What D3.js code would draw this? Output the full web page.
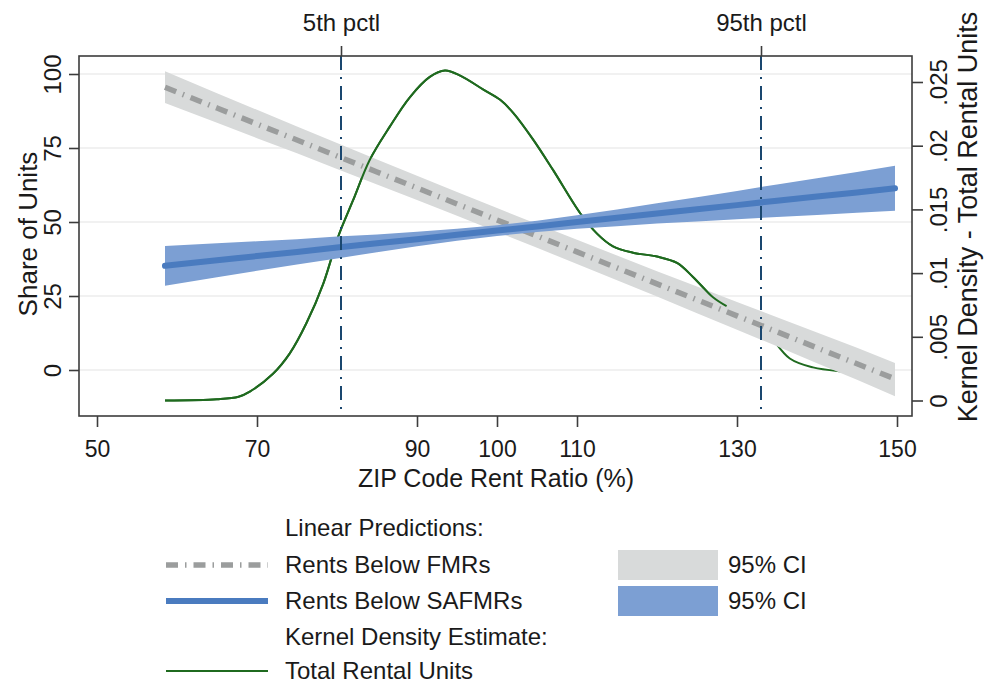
<!DOCTYPE html>
<html><head><meta charset="utf-8">
<script src="https://cdn.jsdelivr.net/npm/d3@7"></script>
<style>body{margin:0;background:#fff}svg{display:block}</style>
</head><body><svg id="c" width="985" height="685"></svg>
<script>
// ---------- data ----------
const xTicks = [50, 70, 90, 100, 110, 130, 150];
const yLeftTicks = [0, 25, 50, 75, 100];
const yRightTicks = [0, 0.005, 0.01, 0.015, 0.02, 0.025];
const yRightLabels = ["0", ".005", ".01", ".015", ".02", ".025"];
const pctlValues = [80.5, 133];
const pctlLabels = ["5th pctl", "95th pctl"];

const predX    = [58.5, 65, 70, 75, 80, 85, 90, 95, 100, 105, 110, 115, 120, 125, 130, 135, 140, 145, 149.75];
const fmrFit   = [95.5, 88.5, 83.1, 77.7, 72.3, 66.9, 61.5, 56.1, 50.7, 45.3, 39.9, 34.5, 29.1, 23.7, 18.3, 12.9, 7.5, 2.1, -3.0];
const fmrLo    = [90.2, 83.5, 78.3, 73.2, 67.9, 62.7, 57.4, 52.1, 46.7, 41.3, 35.8, 30.3, 24.8, 19.2, 13.6, 8.0, 2.3, -3.3, -8.9];
const fmrHi    = [100.9, 93.5, 87.9, 82.3, 76.7, 71.1, 65.6, 60.1, 54.7, 49.3, 44.0, 38.7, 33.4, 28.2, 23.0, 17.8, 12.7, 7.5, 2.4];
const safmrFit = [35.2, 37.1, 38.5, 39.9, 41.4, 42.8, 44.2, 45.7, 47.1, 48.5, 50.0, 51.4, 52.9, 54.3, 55.7, 57.2, 58.6, 60.0, 61.4];
const safmrLo  = [28.5, 31.3, 33.5, 35.6, 37.7, 39.8, 41.8, 43.7, 45.3, 46.6, 47.7, 48.6, 49.5, 50.2, 50.9, 51.7, 52.4, 53.1, 53.8];
const safmrHi  = [41.9, 42.8, 43.5, 44.2, 45.1, 45.8, 46.7, 47.7, 48.9, 50.4, 52.3, 54.2, 56.3, 58.4, 60.5, 62.7, 64.8, 66.9, 69.0];

const densX = [58.5, 65.0, 67.7, 69.1, 72.0, 74.1, 76.2, 78.3, 80.0, 80.6, 82.0, 84.1, 86.6, 89.1, 91.6, 93.5, 95.4, 98.3, 100.4, 102.0, 104.5, 107.0, 110.4, 112.5, 114.5, 117.0, 120.0, 122.5, 124.5, 127.0, 128.7, 131.0, 133.5, 136.6, 139.5, 142.9, 146.0, 149.5];
const densY = [0.0000, 0.0001, 0.0003, 0.0007, 0.0021, 0.0037, 0.0061, 0.0092, 0.0126, 0.0136, 0.0157, 0.0189, 0.0215, 0.0238, 0.0254, 0.0259, 0.0255, 0.0244, 0.0236, 0.0226, 0.0205, 0.0181, 0.0147, 0.0131, 0.0121, 0.0116, 0.0113, 0.0108, 0.0097, 0.0081, 0.0074, 0.0066, 0.0055, 0.0033, 0.0026, 0.0023, 0.0022, 0.0021];

// ---------- layout ----------
const FONT = "'Liberation Sans', Arial, Helvetica, sans-serif";
const frame = {left: 79, right: 912, top: 56, bottom: 416};
const C = {
  grayBand: "#d8dada", grayLine: "#9b9d9d",
  blueBand: "#7c9fd3", blueLine: "#4a7bbf",
  green: "#1f6a1f", pctl: "#1a476f", grid: "#ececec", axis: "#3c3c3c", text: "#1a1a1a"
};

const svg = d3.select("#c").style("font-family", FONT);
const x  = d3.scaleLinear().domain([50, 150]).range([97, 897]);
const yL = d3.scaleLinear().domain([0, 100]).range([370, 74]);
const yR = d3.scaleLinear().domain([0, 0.025]).range([400.5, 82]);

// gridlines
svg.append("g").selectAll("line").data(yLeftTicks).join("line")
  .attr("x1", frame.left).attr("x2", frame.right)
  .attr("y1", d => yL(d)).attr("y2", d => yL(d))
  .attr("stroke", C.grid).attr("stroke-width", 1.6);

const idx = d3.range(predX.length);
const area = (lo, hi) => d3.area().x(i => x(predX[i])).y0(i => yL(lo[i])).y1(i => yL(hi[i]));
const line = (v) => d3.line().x(i => x(predX[i])).y(i => yL(v[i]));
const densLine = d3.line().curve(d3.curveCatmullRom).x(i => x(densX[i])).y(i => yR(densY[i]));
const didx = d3.range(densX.length);

// density (full, beneath the FMR band)
svg.append("path").attr("d", densLine(didx))
  .attr("fill", "none").attr("stroke", C.green).attr("stroke-width", 2);

// FMR band
svg.append("path").attr("d", area(fmrLo, fmrHi)(idx)).attr("fill", C.grayBand);

// density (left part, drawn over the FMR band)
svg.append("path").attr("d", densLine(didx.filter(i => densX[i] <= 129)))
  .attr("fill", "none").attr("stroke", C.green).attr("stroke-width", 2);

// FMR line
svg.append("path").attr("d", line(fmrFit)(idx)).attr("fill", "none")
  .attr("stroke", C.grayLine).attr("stroke-width", 5.5).attr("stroke-dasharray", "12,7,1.5,7");

// SAFMR band + line
svg.append("path").attr("d", area(safmrLo, safmrHi)(idx)).attr("fill", C.blueBand);
svg.append("path").attr("d", line(safmrFit)(idx)).attr("fill", "none")
  .attr("stroke", C.blueLine).attr("stroke-width", 6).attr("stroke-linecap", "round");

// percentile lines
svg.append("g").selectAll("line").data(pctlValues).join("line")
  .attr("x1", d => x(d)).attr("x2", d => x(d))
  .attr("y1", frame.top).attr("y2", frame.bottom)
  .attr("stroke", C.pctl).attr("stroke-width", 2).attr("stroke-dasharray", "14,7,2,7");

// frame
svg.append("rect").attr("x", frame.left).attr("y", frame.top)
  .attr("width", frame.right - frame.left).attr("height", frame.bottom - frame.top)
  .attr("fill", "none").attr("stroke", C.axis).attr("stroke-width", 1.6);

function styleAxis(g) {
  g.select(".domain").remove();
  g.selectAll(".tick line").attr("stroke", C.axis).attr("stroke-width", 1.6);
  g.selectAll(".tick text").attr("fill", C.text).style("font-family", FONT);
}

// bottom axis
svg.append("g").attr("transform", `translate(0,${frame.bottom})`)
  .call(d3.axisBottom(x).tickValues(xTicks).tickSize(11).tickPadding(14).tickFormat(d3.format("d")))
  .call(styleAxis)
  .selectAll("text").style("font-size", "23px");

// top axis (percentiles)
svg.append("g").attr("transform", `translate(0,${frame.top})`)
  .call(d3.axisTop(x).tickValues(pctlValues).tickSize(10).tickPadding(15).tickFormat((d, i) => pctlLabels[i]))
  .call(styleAxis)
  .selectAll("text").style("font-size", "24px");

// left axis
const gL = svg.append("g").attr("transform", `translate(${frame.left},0)`)
  .call(d3.axisLeft(yL).tickValues(yLeftTicks).tickSize(10).tickFormat(d3.format("d")))
  .call(styleAxis);
gL.selectAll(".tick text").attr("x", null).attr("dy", null)
  .attr("transform", "translate(-18,0) rotate(-90)").attr("text-anchor", "middle").style("font-size", "24px");

// right axis
const gR = svg.append("g").attr("transform", `translate(${frame.right},0)`)
  .call(d3.axisRight(yR).tickValues(yRightTicks).tickSize(11).tickFormat((d, i) => yRightLabels[i]))
  .call(styleAxis);
gR.selectAll(".tick text").attr("x", null).attr("dy", null)
  .attr("transform", "translate(35,0) rotate(-90)").attr("text-anchor", "middle").style("font-size", "24px");

// axis titles
svg.append("text").attr("x", 496).attr("y", 487).attr("text-anchor", "middle")
  .style("font-size", "25px").attr("fill", C.text).text("ZIP Code Rent Ratio (%)");
svg.append("text").attr("transform", "translate(37,234) rotate(-90)").attr("text-anchor", "middle")
  .style("font-size", "26px").attr("fill", C.text).text("Share of Units");
svg.append("text").attr("transform", "translate(977,217) rotate(-90)").attr("text-anchor", "middle")
  .style("font-size", "27px").attr("fill", C.text).text("Kernel Density - Total Rental Units");

// legend
const lg = svg.append("g").style("font-size", "24px").attr("fill", C.text);
const rowY = [528, 565, 601, 637, 671];
const tx = 285;
lg.append("text").attr("x", tx).attr("y", rowY[0]).attr("dy", "0.35em").text("Linear Predictions:");
lg.append("line").attr("x1", 166).attr("x2", 268).attr("y1", rowY[1]).attr("y2", rowY[1])
  .attr("stroke", C.grayLine).attr("stroke-width", 5.5).attr("stroke-dasharray", "12,7,1.5,7");
lg.append("text").attr("x", tx).attr("y", rowY[1]).attr("dy", "0.35em").text("Rents Below FMRs");
lg.append("line").attr("x1", 166).attr("x2", 268).attr("y1", rowY[2]).attr("y2", rowY[2])
  .attr("stroke", C.blueLine).attr("stroke-width", 6);
lg.append("text").attr("x", tx).attr("y", rowY[2]).attr("dy", "0.35em").text("Rents Below SAFMRs");
lg.append("text").attr("x", tx).attr("y", rowY[3]).attr("dy", "0.35em").text("Kernel Density Estimate:");
lg.append("line").attr("x1", 166).attr("x2", 268).attr("y1", rowY[4]).attr("y2", rowY[4])
  .attr("stroke", C.green).attr("stroke-width", 2);
lg.append("text").attr("x", tx).attr("y", rowY[4]).attr("dy", "0.35em").text("Total Rental Units");

lg.append("rect").attr("x", 618).attr("y", rowY[1] - 15).attr("width", 100).attr("height", 30).attr("fill", C.grayBand);
lg.append("text").attr("x", 728).attr("y", rowY[1]).attr("dy", "0.35em").text("95% CI");
lg.append("rect").attr("x", 618).attr("y", rowY[2] - 15).attr("width", 100).attr("height", 30).attr("fill", C.blueBand);
lg.append("text").attr("x", 728).attr("y", rowY[2]).attr("dy", "0.35em").text("95% CI");
</script>
</body></html>
